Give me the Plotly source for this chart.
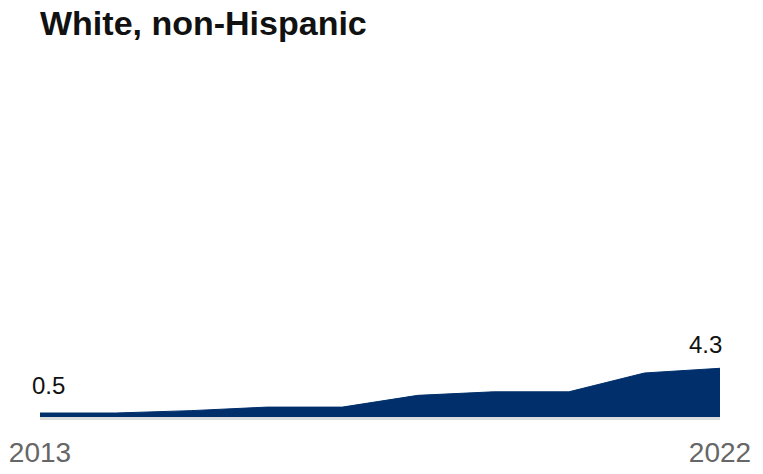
import plotly.graph_objects as go

years = [2013, 2014, 2015, 2016, 2017, 2018, 2019, 2020, 2021, 2022]
values = [0.5, 0.5, 0.7, 1.0, 1.0, 2.0, 2.3, 2.3, 3.9, 4.3]
title_text = "White, non-Hispanic"
tick_years = [2013, 2022]
tick_labels = ["2013", "2022"]

NAVY = "#002f6c"
FONT = "Liberation Sans, Arial"

fig = go.Figure()
fig.add_trace(go.Scatter(
    x=years, y=values, mode="lines", fill="tozeroy",
    line=dict(color=NAVY, width=1), fillcolor=NAVY,
    hoverinfo="skip", showlegend=False,
))

fig.add_annotation(x=years[0], y=values[0], text=f"{values[0]:.1f}",
                   showarrow=False, xanchor="center", yanchor="bottom",
                   xshift=8, yshift=12,
                   font=dict(family=FONT, size=24, color="#111"))
fig.add_annotation(x=years[-1], y=values[-1], text=f"{values[-1]:.1f}",
                   showarrow=False, xanchor="center", yanchor="bottom",
                   xshift=-15, yshift=8,
                   font=dict(family=FONT, size=24, color="#111"))

fig.update_layout(
    width=763, height=474,
    margin=dict(l=40, r=43, t=60, b=57, autoexpand=False),
    paper_bgcolor="white", plot_bgcolor="white",
    title=dict(text=f"<b>{title_text}</b>", x=40/763, xanchor="left", xref="container",
               y=1 - 11/474, yanchor="top", yref="container",
               font=dict(family=FONT, size=34, color="#111")),
    xaxis=dict(range=[2013, 2022], tickvals=tick_years, ticktext=tick_labels,
               showgrid=False, zeroline=False, showline=True, linecolor="#dcdcdc", linewidth=3,
               ticks="", tickfont=dict(family=FONT, size=28, color="#666"),
               ticklabelstandoff=8, automargin=False),
    yaxis=dict(range=[0.16, 30.5], visible=False, showgrid=False, zeroline=False,
               automargin=False),
)

fig.write_html("out.html")
